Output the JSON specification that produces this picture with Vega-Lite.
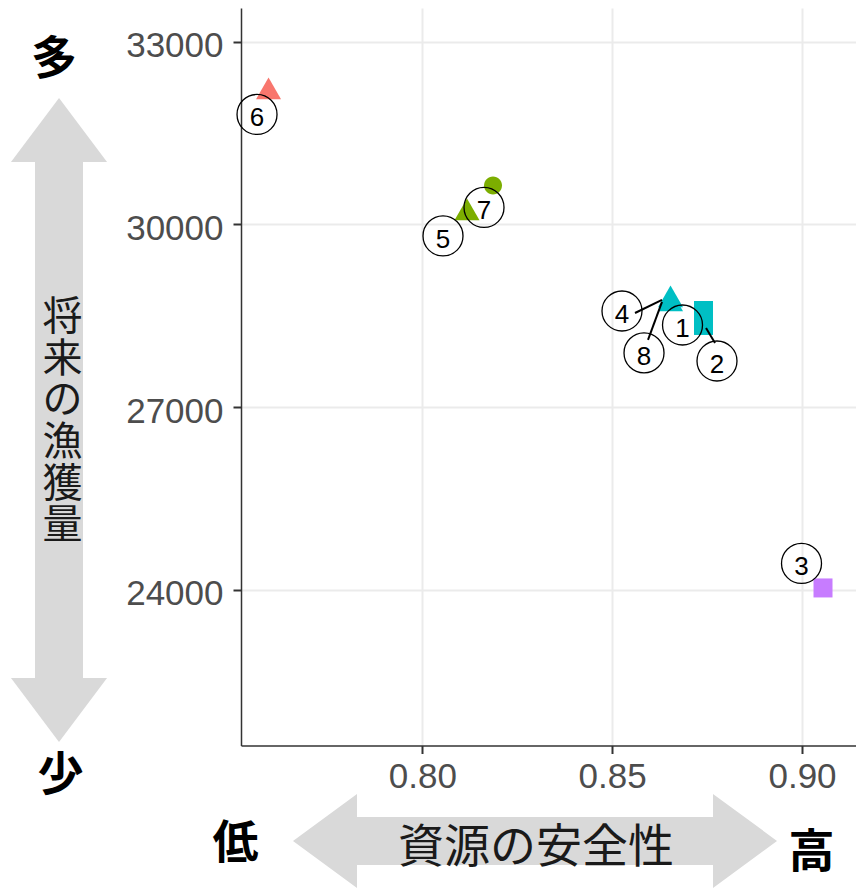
{
  "$schema": "https://vega.github.io/schema/vega-lite/v6.json",
  "width": 615,
  "height": 737.5,
  "autosize": {"type": "none"},
  "padding": {"left": 241, "top": 8, "right": 0, "bottom": 143.5},
  "background": "white",
  "config": {"view": {"stroke": null}, "font": "Liberation Sans"},
  "datasets": {
    "points": [
      {"id": "1", "group": "C", "type": "square", "x": 0.87406, "y": 28586},
      {"id": "2", "group": "C", "type": "square", "x": 0.87406, "y": 28340},
      {"id": "3", "group": "D", "type": "square", "x": 0.90553, "y": 24030},
      {"id": "4", "group": "C", "type": "triangle", "x": 0.86537, "y": 28759},
      {"id": "5", "group": "B", "type": "triangle", "x": 0.81177, "y": 30187},
      {"id": "6", "group": "A", "type": "triangle", "x": 0.7595, "y": 32174},
      {"id": "7", "group": "B", "type": "circle", "x": 0.81862, "y": 30639},
      {"id": "8", "group": "C", "type": "triangle", "x": 0.86537, "y": 28693}
    ],
    "labels": [
      {"id": "1", "x": 0.86853, "y": 28348},
      {"id": "2", "x": 0.87761, "y": 27757},
      {"id": "3", "x": 0.89987, "y": 24432},
      {"id": "4", "x": 0.85259, "y": 28578},
      {"id": "5", "x": 0.80545, "y": 29810},
      {"id": "6", "x": 0.75647, "y": 31805},
      {"id": "7", "x": 0.81625, "y": 30278},
      {"id": "8", "x": 0.85839, "y": 27889}
    ],
    "segments": [
      {"id": "4", "x": 0.86313, "y": 28759, "x2": 0.85602, "y2": 28545},
      {"id": "8", "x": 0.86313, "y": 28726, "x2": 0.85944, "y2": 28102},
      {"id": "2", "x": 0.87472, "y": 28299, "x2": 0.87709, "y2": 28053}
    ],
    "minorX": [{"x": 0.775}, {"x": 0.825}, {"x": 0.875}],
    "minorY": [{"y": 22500}, {"y": 25500}, {"y": 28500}, {"y": 31500}],
    "arrows": [
      {"dir": "v", "x": 0.70432, "y": 26788},
      {"dir": "h", "x": 0.82968, "y": 19876}
    ],
    "notes": [
      {"role": "end", "label": "多", "x": 0.7030, "y": 32765},
      {"role": "end", "label": "少", "x": 0.70471, "y": 21000},
      {"role": "end", "label": "低", "x": 0.7508, "y": 19892},
      {"role": "end", "label": "高", "x": 0.9025, "y": 19744},
      {"role": "xtitle", "label": "資源の安全性", "x": 0.82995, "y": 19826},
      {"role": "ytitle", "label": "将\n来\nの\n漁\n獲\n量", "x": 0.70524, "y": 28512}
    ]
  },
  "encoding": {
    "x": {"field": "x", "type": "quantitative",
          "scale": {"domain": [0.75225, 0.91422], "nice": false, "zero": false},
          "axis": {"title": null, "values": [0.8, 0.85, 0.9], "format": ".2f",
                   "labelFontSize": 35, "labelColor": "#4D4D4D", "labelFont": "Liberation Sans",
                   "tickColor": "#333333", "tickWidth": 2, "tickSize": 8, "labelPadding": 6,
                   "domainColor": "#333333", "domainWidth": 1.5,
                   "grid": true, "gridColor": "#EBEBEB", "gridWidth": 2,
                   "labelFlush": false, "labelOverlap": false, "labelBound": false}},
    "y": {"field": "y", "type": "quantitative",
          "scale": {"domain": [21443, 33553], "nice": false, "zero": false},
          "axis": {"title": null, "values": [24000, 27000, 30000, 33000], "format": "d",
                   "labelFontSize": 35, "labelColor": "#4D4D4D", "labelFont": "Liberation Sans",
                   "tickColor": "#333333", "tickWidth": 2, "tickSize": 8, "labelPadding": 10, "labelOffset": 4,
                   "domainColor": "#333333", "domainWidth": 1.5,
                   "grid": true, "gridColor": "#EBEBEB", "gridWidth": 2,
                   "labelFlush": false, "labelOverlap": false, "labelBound": false}}
  },
  "layer": [
    {
      "data": {"name": "minorX"},
      "mark": {"type": "rule", "color": "#EBEBEB", "strokeWidth": 1},
      "encoding": {
        "y": {"datum": 21443},
        "y2": {"datum": 33553}
      }
    },
    {
      "data": {"name": "minorY"},
      "mark": {"type": "rule", "color": "#EBEBEB", "strokeWidth": 1},
      "encoding": {
        "x": {"datum": 0.75225},
        "x2": {"datum": 0.91422}
      }
    },
    {
      "data": {"values": [{}]},
      "mark": {"type": "rule", "color": "#333333", "strokeWidth": 1.5},
      "encoding": {
        "y": {"datum": 33553},
        "x": {"datum": 0.75225},
        "x2": {"datum": 0.91422}
      }
    },
    {
      "data": {"name": "points"},
      "mark": {"type": "point", "filled": true, "opacity": 1, "size": 625, "strokeWidth": 0},
      "encoding": {
        "color": {"field": "group", "type": "nominal",
                  "scale": {"domain": ["A", "B", "C", "D"], "range": ["#F8766D", "#7CAE00", "#00BFC4", "#C77CFF"]},
                  "legend": null},
        "shape": {"field": "type", "type": "nominal",
                  "scale": {"domain": ["triangle", "circle", "square"],
                            "range": ["M0,-1.1547L1,0.57735L-1,0.57735Z",
                                      "M0.72,0A0.72,0.72,0,1,1,-0.72,0A0.72,0.72,0,1,1,0.72,0Z",
                                      "M-0.76,-0.76H0.76V0.76H-0.76Z"]},
                  "legend": null}
      }
    },
    {
      "data": {"name": "segments"},
      "mark": {"type": "rule", "color": "#000000", "strokeWidth": 2},
      "encoding": {
        "x2": {"field": "x2"},
        "y2": {"field": "y2"}
      }
    },
    {
      "data": {"name": "labels"},
      "mark": {"type": "point", "shape": "circle", "size": 1600, "filled": false, "fill": null, "stroke": "#000000", "strokeWidth": 1.3, "opacity": 1},
      "encoding": {}
    },
    {
      "data": {"name": "labels"},
      "mark": {"type": "text", "font": "Liberation Sans", "fontSize": 26, "color": "#000000", "align": "center", "baseline": "middle", "dy": 4},
      "encoding": {
        "text": {"field": "id", "type": "nominal"}
      }
    },
    {
      "data": {"name": "arrows"},
      "transform": [{"filter": "datum.dir == 'v'"}],
      "mark": {"type": "point", "filled": true, "opacity": 1, "color": "#D9D9D9", "strokeWidth": 0, "size": 414736,
               "shape": "M0,-1L0.1491,-0.8012L0.0745,-0.8012L0.0745,0.8012L0.1491,0.8012L0,1L-0.1491,0.8012L-0.0745,0.8012L-0.0745,-0.8012L-0.1491,-0.8012Z"},
      "encoding": {}
    },
    {
      "data": {"name": "arrows"},
      "transform": [{"filter": "datum.dir == 'h'"}],
      "mark": {"type": "point", "filled": true, "opacity": 1, "color": "#D9D9D9", "strokeWidth": 0, "size": 414736,
               "shape": "M-0.7516,0L-0.5528,-0.146L-0.5528,-0.0745L0.5528,-0.0745L0.5528,-0.146L0.7516,0L0.5528,0.146L0.5528,0.0745L-0.5528,0.0745L-0.5528,0.146Z"},
      "encoding": {}
    },
    {
      "data": {"name": "notes"},
      "transform": [{"filter": "datum.role == 'end'"}],
      "mark": {"type": "text", "font": "Noto Sans CJK JP", "fontSize": 46, "fontWeight": "bold", "color": "#000000", "align": "center", "baseline": "middle", "dy": 4},
      "encoding": {
        "text": {"field": "label", "type": "nominal"}
      }
    },
    {
      "data": {"name": "notes"},
      "transform": [{"filter": "datum.role == 'xtitle'"}],
      "mark": {"type": "text", "font": "Noto Sans CJK JP", "fontSize": 46, "color": "#1A1A1A", "align": "center", "baseline": "middle", "dy": 4},
      "encoding": {
        "text": {"field": "label", "type": "nominal"}
      }
    },
    {
      "data": {"name": "notes"},
      "transform": [{"filter": "datum.role == 'ytitle'"}],
      "mark": {"type": "text", "font": "Noto Sans CJK JP", "fontSize": 40, "color": "#1A1A1A", "align": "center", "baseline": "middle", "dy": 3, "lineBreak": "\n", "lineHeight": 41.7},
      "encoding": {
        "text": {"field": "label", "type": "nominal"}
      }
    }
  ]
}
